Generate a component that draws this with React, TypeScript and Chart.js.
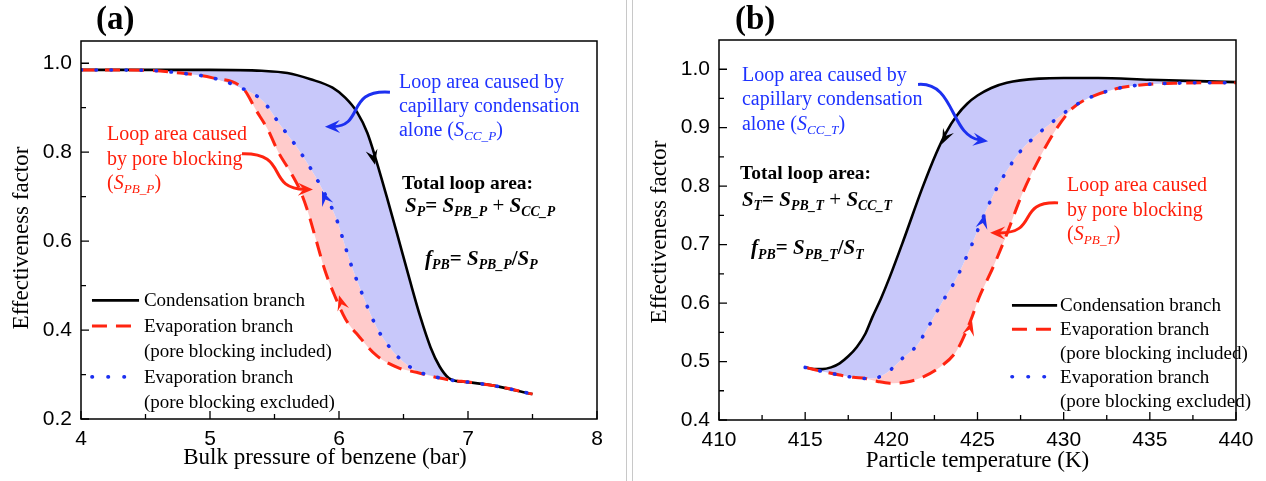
import React, { useEffect, useRef } from 'react';
import { Chart, registerables } from 'chart.js';

Chart.register(...registerables);

// ---------------- Panel (a): bulk pressure of benzene (bar) ----------------
const pressureCondensation = [4.0, 4.5, 5.0, 5.4, 5.6, 5.78, 5.95, 6.05, 6.14, 6.22, 6.29, 6.37, 6.45, 6.55, 6.63, 6.71, 6.78, 6.85, 6.9, 7.0, 7.2, 7.5];
const effCondensationA = [0.985, 0.985, 0.985, 0.983, 0.978, 0.964, 0.945, 0.922, 0.89, 0.843, 0.78, 0.70, 0.617, 0.511, 0.43, 0.361, 0.318, 0.292, 0.286, 0.283, 0.275, 0.256];

const pressureEvapExcluded = [4.0, 4.5, 4.77, 5.02, 5.26, 5.41, 5.54, 5.70, 5.85, 5.98, 6.03, 6.09, 6.19, 6.29, 6.37, 6.47, 6.59, 6.73, 6.88, 7.0, 7.2, 7.5];
const effEvapExcludedA = [0.985, 0.984, 0.978, 0.967, 0.942, 0.915, 0.863, 0.80, 0.728, 0.65, 0.605, 0.55, 0.474, 0.407, 0.370, 0.336, 0.31, 0.296, 0.287, 0.283, 0.275, 0.256];

const pressureEvapIncluded = [4.0, 4.5, 4.77, 5.02, 5.26, 5.36, 5.45, 5.53, 5.62, 5.70, 5.76, 5.82, 5.89, 5.97, 6.05, 6.16, 6.29, 6.47, 6.6, 6.78, 6.88, 7.0, 7.2, 7.5];
const effEvapIncludedA = [0.985, 0.984, 0.978, 0.967, 0.942, 0.893, 0.85, 0.80, 0.757, 0.713, 0.665, 0.605, 0.535, 0.475, 0.425, 0.384, 0.343, 0.314, 0.305, 0.292, 0.287, 0.283, 0.275, 0.256];

const pressureTicks = [4, 5, 6, 7, 8];
const effTicksA = [0.2, 0.4, 0.6, 0.8, 1.0];

// ---------------- Panel (b): particle temperature (K) ----------------
const tempCondensation = [415, 415.5, 416, 416.5, 417, 417.5, 418, 418.5, 418.9, 419.4, 419.9, 420.7, 421.8, 422.6, 423.2, 423.8, 424.4, 425.0, 425.8, 426.7, 428.6, 430, 432, 435, 440];
const effCondensationB = [0.49, 0.487, 0.487, 0.49, 0.497, 0.509, 0.525, 0.548, 0.576, 0.608, 0.644, 0.707, 0.797, 0.856, 0.893, 0.921, 0.941, 0.955, 0.968, 0.977, 0.984, 0.985, 0.985, 0.982, 0.978];

const tempEvapExcluded = [415, 416, 417, 417.8, 418.5, 418.9, 419.7, 420.7, 421.5, 422.1, 423.0, 423.7, 424.6, 425.3, 426.0, 426.7, 427.5, 428.5, 429.4, 430.4, 431.4, 433.1, 434.8, 436.4, 438, 440];
const effEvapExcludedB = [0.49, 0.483, 0.477, 0.473, 0.471, 0.471, 0.48, 0.507, 0.528, 0.557, 0.604, 0.638, 0.695, 0.745, 0.79, 0.826, 0.86, 0.889, 0.911, 0.933, 0.95, 0.967, 0.974, 0.976, 0.977, 0.977];

const tempEvapIncluded = [415, 416, 417, 417.8, 418.5, 419.2, 419.9, 420.9, 421.8, 422.8, 423.8, 424.6, 425.1, 425.9, 426.7, 427.6, 428.6, 429.6, 430.5, 431.4, 433.1, 434.8, 436.4, 438, 440];
const effEvapIncludedB = [0.49, 0.483, 0.477, 0.473, 0.471, 0.466, 0.463, 0.465, 0.473, 0.49, 0.519, 0.57, 0.61, 0.661, 0.718, 0.787, 0.848, 0.899, 0.933, 0.95, 0.967, 0.974, 0.976, 0.977, 0.977];

const tempTicks = [410, 415, 420, 425, 430, 435, 440];
const effTicksB = [0.4, 0.5, 0.6, 0.7, 0.8, 0.9, 1.0];

// ---------------- styles ----------------
const BLACK = '#000000';
const RED = 'rgb(255,36,16)';
const BLUE = 'rgb(28,48,240)';
const TXT_BLUE = 'rgb(30,50,255)';
const TXT_RED = 'rgb(255,30,10)';
const LAV = 'rgb(200,200,250)';
const PINK = 'rgb(255,203,203)';
const SERIF = '"Liberation Serif", "Times New Roman", serif';
const SANS = '"Liberation Sans", Arial, sans-serif';

type Seg = { t: string; st?: string; sub?: boolean };
const n = (t: string): Seg => ({ t });
const it = (t: string): Seg => ({ t, st: 'i' });
const sb = (t: string, st = 'i'): Seg => ({ t, st, sub: true });
const bi = (t: string): Seg => ({ t, st: 'bi' });
const bs = (t: string): Seg => ({ t, st: 'bi', sub: true });
const b = (t: string): Seg => ({ t, st: 'b' });

function zip(xs: number[], ys: number[]) {
  return xs.map((x, i) => ({ x, y: ys[i] }));
}

function drawRich(ctx: CanvasRenderingContext2D, x: number, yBase: number, segs: Seg[], size: number, color: string) {
  let cx = x;
  ctx.fillStyle = color;
  ctx.textAlign = 'left';
  ctx.textBaseline = 'alphabetic';
  for (const s of segs) {
    const st = s.st || 'n';
    const sz = s.sub ? size * 0.66 : size;
    const w = st.includes('b') ? 'bold ' : '';
    const i = st.includes('i') ? 'italic ' : '';
    ctx.font = `${i}${w}${sz}px ${SERIF}`;
    ctx.fillText(s.t, cx, s.sub ? yBase + size * 0.2 : yBase);
    cx += ctx.measureText(s.t).width;
  }
}

function arrowHead(ctx: CanvasRenderingContext2D, tx: number, ty: number, ang: number, color: string, len = 15, hw = 6.5) {
  ctx.save();
  ctx.translate(tx, ty);
  ctx.rotate(ang);
  ctx.beginPath();
  ctx.moveTo(0, 0);
  ctx.lineTo(-len, -hw);
  ctx.lineTo(-len * 0.62, 0);
  ctx.lineTo(-len, hw);
  ctx.closePath();
  ctx.fillStyle = color;
  ctx.fill();
  ctx.restore();
}

interface Note { x: number; y: number; size: number; lh: number; color: string; lines: Seg[][] }
interface Curve { p: number[][]; color: string }
interface Head { from: number[]; tip: number[]; color: string }
interface PanelSpec {
  tag: string;
  xMin: number; xMax: number; yMin: number; yMax: number;
  xTicks: number[]; yTicks: number[];
  xDigits: number;
  yAxisWidth: number; xAxisHeight: number; padTop: number; padRight: number;
  cond: { x: number; y: number }[];
  excl: { x: number; y: number }[];
  incl: { x: number; y: number }[];
  xTitle: string; xTitleShift: number; xTitleDy: number;
  yTitle: string; yTitleDx: number; yTitleShift: number;
  tagX: number;
  notes: Note[];
  curves: Curve[];
  heads: Head[];
  legend: { x0: number; x1: number; tx: number; y: number; rowH: number };
}

function makePlugin(p: PanelSpec) {
  return {
    id: 'decor',
    afterDraw(chart: any) {
      const ctx: CanvasRenderingContext2D = chart.ctx;
      const xs = chart.scales.x;
      const ys = chart.scales.y;
      const X = (v: number) => xs.getPixelForValue(v);
      const Y = (v: number) => ys.getPixelForValue(v);
      const a = chart.chartArea;
      ctx.save();
      // frame
      ctx.strokeStyle = '#000';
      ctx.lineWidth = 1.5;
      ctx.strokeRect(a.left, a.top, a.right - a.left, a.bottom - a.top);
      // inside ticks (major + minor)
      ctx.lineWidth = 1.3;
      const tickSet = (vals: number[]) => {
        const out: { v: number; major: boolean }[] = [];
        vals.forEach((v, i) => {
          out.push({ v, major: true });
          if (i < vals.length - 1) out.push({ v: (v + vals[i + 1]) / 2, major: false });
        });
        return out;
      };
      ctx.beginPath();
      for (const t of tickSet(p.xTicks)) {
        const px = X(t.v);
        ctx.moveTo(px, a.bottom);
        ctx.lineTo(px, a.bottom - (t.major ? 8 : 5));
      }
      for (const t of tickSet(p.yTicks)) {
        const py = Y(t.v);
        ctx.moveTo(a.left, py);
        ctx.lineTo(a.left + (t.major ? 8 : 5), py);
      }
      ctx.stroke();

      // panel tag
      ctx.fillStyle = '#000';
      ctx.font = `bold 33px ${SERIF}`;
      ctx.textAlign = 'left';
      ctx.textBaseline = 'alphabetic';
      ctx.fillText(p.tag, p.tagX, 29);

      // axis titles
      ctx.font = `23px ${SERIF}`;
      ctx.textAlign = 'center';
      ctx.textBaseline = 'middle';
      ctx.fillText(p.xTitle, (a.left + a.right) / 2 + p.xTitleShift, a.bottom + p.xTitleDy);
      ctx.save();
      ctx.translate(a.left + p.yTitleDx, (a.top + a.bottom) / 2 + p.yTitleShift);
      ctx.rotate(-Math.PI / 2);
      ctx.fillText(p.yTitle, 0, 0);
      ctx.restore();

      // curved annotation arrows
      for (const c of p.curves) {
        const pts = c.p.map(q => [X(q[0]), Y(q[1])]);
        const [p0, p1, p2, p3] = pts;
        const ang = Math.atan2(p3[1] - p2[1], p3[0] - p2[0]);
        const endX = p3[0] - Math.cos(ang) * 8;
        const endY = p3[1] - Math.sin(ang) * 8;
        ctx.beginPath();
        ctx.moveTo(p0[0], p0[1]);
        ctx.bezierCurveTo(p1[0], p1[1], p2[0], p2[1], endX, endY);
        ctx.strokeStyle = c.color;
        ctx.lineWidth = 3;
        ctx.lineCap = 'butt';
        ctx.stroke();
        arrowHead(ctx, p3[0], p3[1], ang, c.color, 15, 6.5);
      }
      // arrowheads on curves
      for (const h of p.heads) {
        const fx = X(h.from[0]), fy = Y(h.from[1]);
        const tx = X(h.tip[0]), ty = Y(h.tip[1]);
        arrowHead(ctx, tx, ty, Math.atan2(ty - fy, tx - fx), h.color, 15, 6);
      }
      // text notes
      for (const nt of p.notes) {
        nt.lines.forEach((ln, i) => {
          drawRich(ctx, X(nt.x), Y(nt.y) + i * nt.lh + nt.size * 0.32, ln, nt.size, nt.color);
        });
      }
      // legend
      const L = p.legend;
      const lx0 = X(L.x0), lx1 = X(L.x1), tx = X(L.tx);
      const ly = Y(L.y);
      const rows: { s: string | null; t: string }[] = [
        { s: 'solid', t: 'Condensation branch' },
        { s: 'dash', t: 'Evaporation branch' },
        { s: null, t: '(pore blocking included)' },
        { s: 'dot', t: 'Evaporation branch' },
        { s: null, t: '(pore blocking excluded)' },
      ];
      rows.forEach((r, i) => {
        const yy = ly + i * L.rowH;
        if (r.s) {
          ctx.beginPath();
          ctx.moveTo(lx0, yy);
          ctx.lineTo(lx1, yy);
          if (r.s === 'solid') { ctx.strokeStyle = BLACK; ctx.lineWidth = 2.8; ctx.setLineDash([]); ctx.lineCap = 'butt'; }
          if (r.s === 'dash') { ctx.strokeStyle = RED; ctx.lineWidth = 3; ctx.setLineDash([15, 9]); ctx.lineCap = 'butt'; }
          if (r.s === 'dot') { ctx.strokeStyle = BLUE; ctx.lineWidth = 3.6; ctx.setLineDash([0.5, 15.5]); ctx.lineCap = 'round'; }
          ctx.stroke();
          ctx.setLineDash([]);
          ctx.lineCap = 'butt';
        }
        drawRich(ctx, tx, yy + 19 * 0.32, [n(r.t)], 19, '#000');
      });
      ctx.restore();
    },
  };
}

function buildConfig(p: PanelSpec): any {
  const lineBase = { pointRadius: 0, pointHoverRadius: 0, cubicInterpolationMode: 'monotone' };
  return {
    type: 'line',
    data: {
      datasets: [
        { ...lineBase, label: 'Condensation branch', data: p.cond, borderColor: BLACK, borderWidth: 2.6, fill: false, order: 3 },
        { ...lineBase, label: 'Evaporation branch (pore blocking excluded)', data: p.excl, borderColor: BLUE, borderWidth: 3.6, borderDash: [0.5, 14.5], borderCapStyle: 'round', fill: { target: 0, above: LAV, below: LAV }, order: 1 },
        { ...lineBase, label: 'Evaporation branch (pore blocking included)', data: p.incl, borderColor: RED, borderWidth: 3, borderDash: [15, 9], fill: { target: 1, above: PINK, below: PINK }, order: 2 },
      ],
    },
    options: {
      responsive: false,
      maintainAspectRatio: false,
      animation: false,
      events: [],
      layout: { padding: { left: 0, top: p.padTop, right: p.padRight, bottom: 0 } },
      plugins: {
        legend: { display: false },
        tooltip: { enabled: false },
        title: { display: false },
        filler: { drawTime: 'beforeDatasetsDraw', propagate: false },
      },
      scales: {
        x: {
          type: 'linear',
          min: p.xMin,
          max: p.xMax,
          afterBuildTicks: (ax: any) => { ax.ticks = p.xTicks.map(v => ({ value: v })); },
          afterFit: (s: any) => { s.height = p.xAxisHeight; },
          ticks: { autoSkip: false, maxRotation: 0, padding: 8, color: '#000', font: { family: SANS, size: 21 }, callback: (v: any) => Number(v).toFixed(p.xDigits) },
          grid: { display: false, drawTicks: false },
          border: { display: false },
          title: { display: false },
        },
        y: {
          type: 'linear',
          min: p.yMin,
          max: p.yMax,
          afterBuildTicks: (ax: any) => { ax.ticks = p.yTicks.map(v => ({ value: v })); },
          afterFit: (s: any) => { s.width = p.yAxisWidth; },
          ticks: { autoSkip: false, padding: 9, color: '#000', font: { family: SANS, size: 21 }, callback: (v: any) => Number(v).toFixed(1) },
          grid: { display: false, drawTicks: false },
          border: { display: false },
          title: { display: false },
        },
      },
    },
    plugins: [makePlugin(p)],
  };
}

const specA: PanelSpec = {
  tag: '(a)', tagX: 96,
  xMin: 4, xMax: 8, yMin: 0.2, yMax: 1.05,
  xTicks: pressureTicks, yTicks: effTicksA, xDigits: 0,
  yAxisWidth: 81, xAxisHeight: 62, padTop: 41, padRight: 30,
  cond: zip(pressureCondensation, effCondensationA),
  excl: zip(pressureEvapExcluded, effEvapExcludedA),
  incl: zip(pressureEvapIncluded, effEvapIncludedA),
  xTitle: 'Bulk pressure of benzene (bar)', xTitleShift: -14, xTitleDy: 39,
  yTitle: 'Effectiveness factor', yTitleDx: -59, yTitleShift: 8,
  notes: [
    { x: 6.465, y: 0.9597, size: 20, lh: 24, color: TXT_BLUE, lines: [[n('Loop area caused by')], [n('capillary condensation')], [n('alone ('), it('S'), sb('CC_P'), n(')')]] },
    { x: 4.2016, y: 0.841, size: 20, lh: 24.5, color: TXT_RED, lines: [[n('Loop area caused')], [n('by pore blocking')], [n('('), it('S'), sb('PB_P'), n(')')]] },
    { x: 6.488, y: 0.731, size: 19.5, lh: 24, color: '#000', lines: [[b('Total loop area:')]] },
    { x: 6.512, y: 0.680, size: 21, lh: 24, color: '#000', lines: [[bi('S'), bs('P'), b('= '), bi('S'), bs('PB_P'), n(' + '), bi('S'), bs('CC_P')]] },
    { x: 6.667, y: 0.561, size: 21, lh: 24, color: '#000', lines: [[bi('f'), bs('PB'), b('= '), bi('S'), bs('PB_P'), b('/'), bi('S'), bs('P')]] },
  ],
  curves: [
    { p: [[6.395, 0.935], [6.047, 0.942], [6.202, 0.859], [5.891, 0.857]], color: BLUE },
    { p: [[5.248, 0.7966], [5.62, 0.7989], [5.426, 0.7182], [5.798, 0.716]], color: RED },
  ],
  heads: [
    { from: [6.22, 0.845], tip: [6.279, 0.772], color: BLACK },
    { from: [5.95, 0.655], tip: [5.868, 0.713], color: BLUE },
    { from: [6.07, 0.41], tip: [6.0, 0.478], color: RED },
  ],
  legend: { x0: 4.085, x1: 4.45, tx: 4.488, y: 0.4667, rowH: 25.5 },
};

const specB: PanelSpec = {
  tag: '(b)', tagX: 101,
  xMin: 410, xMax: 440, yMin: 0.4, yMax: 1.05,
  xTicks: tempTicks, yTicks: effTicksB, xDigits: 0,
  yAxisWidth: 85, xAxisHeight: 61, padTop: 40, padRight: 30,
  cond: zip(tempCondensation, effCondensationB),
  excl: zip(tempEvapExcluded, effEvapExcludedB),
  incl: zip(tempEvapIncluded, effEvapIncludedB),
  xTitle: 'Particle temperature (K)', xTitleShift: 0, xTitleDy: 41,
  yTitle: 'Effectiveness factor', yTitleDx: -59, yTitleShift: 2,
  notes: [
    { x: 411.33, y: 0.991, size: 20, lh: 24.5, color: TXT_BLUE, lines: [[n('Loop area caused by')], [n('capillary condensation')], [n('alone ('), it('S'), sb('CC_T'), n(')')]] },
    { x: 430.2, y: 0.802, size: 20, lh: 24.5, color: TXT_RED, lines: [[n('Loop area caused')], [n('by pore blocking')], [n('('), it('S'), sb('PB_T'), n(')')]] },
    { x: 411.22, y: 0.8225, size: 19.5, lh: 24, color: '#000', lines: [[b('Total loop area:')]] },
    { x: 411.33, y: 0.778, size: 21, lh: 24, color: '#000', lines: [[bi('S'), bs('T'), b('= '), bi('S'), bs('PB_T'), n(' + '), bi('S'), bs('CC_T')]] },
    { x: 411.86, y: 0.6947, size: 21, lh: 24, color: '#000', lines: [[bi('f'), bs('PB'), b('= '), bi('S'), bs('PB_T'), b('/'), bi('S'), bs('T')]] },
  ],
  curves: [
    { p: [[421.55, 0.974], [423.7, 0.979], [423.41, 0.8855], [425.61, 0.877]], color: BLUE },
    { p: [[429.675, 0.7714], [427.18, 0.7748], [428.63, 0.7186], [425.73, 0.7203]], color: RED },
  ],
  heads: [
    { from: [423.8, 0.925], tip: [422.94, 0.872], color: BLACK },
    { from: [425.0, 0.70], tip: [425.44, 0.7526], color: BLUE },
    { from: [424.2, 0.515], tip: [424.68, 0.57], color: RED },
  ],
  legend: { x0: 427.0, x1: 429.62, tx: 429.79, y: 0.596, rowH: 23.8 },
};

function Panel({ spec, left, width }: { spec: PanelSpec; left: number; width: number }) {
  const ref = useRef<HTMLCanvasElement>(null);
  useEffect(() => {
    if (!ref.current) return;
    const chart = new Chart(ref.current, buildConfig(spec));
    return () => chart.destroy();
  }, [spec]);
  return (
    <canvas
      ref={ref}
      width={width}
      height={481}
      style={{ position: 'absolute', left, top: 0, width, height: 481 }}
    />
  );
}

export default function App() {
  return (
    <div style={{ position: 'absolute', left: 0, top: 0, width: 1266, height: 481, background: '#fff', overflow: 'hidden' }}>
      <Panel spec={specA} left={0} width={627} />
      <div style={{ position: 'absolute', left: 626, top: 0, width: 1, height: 481, background: '#c8c8c8' }} />
      <div style={{ position: 'absolute', left: 632, top: 0, width: 1, height: 481, background: '#c8c8c8' }} />
      <Panel spec={specB} left={634} width={632} />
    </div>
  );
}
